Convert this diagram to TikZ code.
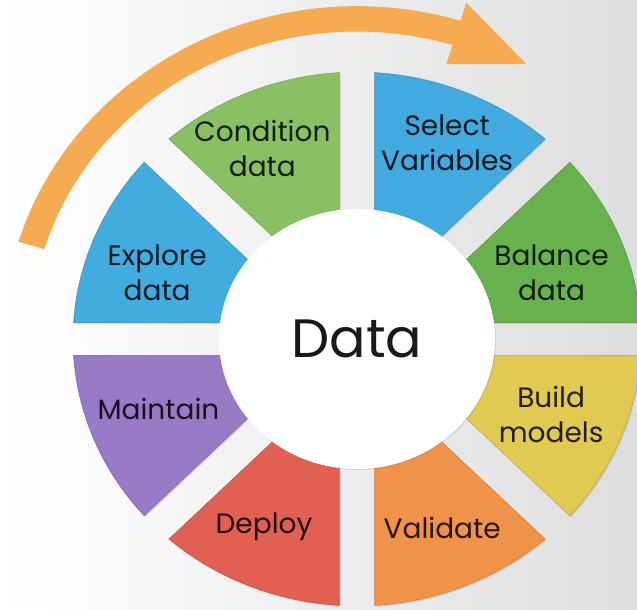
\documentclass[tikz,border=0pt]{standalone}
\usepackage{fontspec}
\setmainfont{Poppins}
\usepackage{tikz}
\usetikzlibrary{shapes.geometric}
\usetikzlibrary{shadows}

\definecolor{balgreen}{RGB}{103,178,76}
\definecolor{selblue}{RGB}{66,170,222}
\definecolor{condgreen}{RGB}{138,192,100}
\definecolor{explblue}{RGB}{66,172,222}
\definecolor{maintpurple}{RGB}{152,122,198}
\definecolor{deployred}{RGB}{226,96,82}
\definecolor{validorange}{RGB}{240,146,72}
\definecolor{buildyellow}{RGB}{224,202,82}
\definecolor{arroworange}{RGB}{246,170,82}

\tikzset{
  wedge/.style={fill=#1, draw=#1!80!black, line width=0.4pt,
    drop shadow={shadow xshift=1.2pt, shadow yshift=-1.2pt, opacity=0.25}},
  steptext/.style={text=#1!15!black, align=center,
    font=\fontsize{28}{35}\selectfont}
}

\begin{document}
\begin{tikzpicture}[x=1pt, y=1pt]

    \shade[left color=white, right color=black!13]
      (-357,-271) rectangle (280,339);
    \useasboundingbox (-357,-271) rectangle (280,339);

  \begin{scope}[yscale=0.94]
    % wheel segments
    \foreach \a/\c in {0/balgreen, 45/selblue, 90/condgreen, 135/explblue,
                       180/maintpurple, 225/deployred, 270/validorange, 315/buildyellow}
      \filldraw[wedge=\c] ({\a+22.5}:45.7) -- ({\a+3.53}:284)
        arc[start angle={\a+3.53}, end angle={\a+41.47}, radius=284] -- cycle;

    % cycle arrow
    \fill[arroworange]
      (163:327) arc[start angle=163, end angle=73, radius=327]
      -- (73:306) -- (60:338) -- (73:374) -- (73:354)
      arc[start angle=73, end angle=163, radius=354] -- cycle;

    \node[ellipse, fill=white, minimum width=276pt, minimum height=260pt,
      drop shadow={shadow xshift=1pt, shadow yshift=-1pt, opacity=0.2},
      font=\fontsize{54}{60}\selectfont, text=black!90]
      (Hub) at (0,0) {Data};

    \node[steptext=balgreen]    (Balance)   at (20:207)  {Balance\\data};
    \node[steptext=selblue]     (Select)    at (66.6:227) {Select\\Variables};
    \node[steptext=condgreen]   (Condition) at (115:224) {Condition\\data};
    \node[steptext=explblue]    (Explore)   at (160.5:212) {Explore\\data};
    \node[steptext=maintpurple] (Maintain)  at (200.5:212) {Maintain};
    \node[steptext=deployred]   (Deploy)    at (245:220) {Deploy};
    \node[steptext=validorange] (Validate)  at (293:218) {Validate};
    \node[steptext=buildyellow] (Build)     at (337.6:210) {Build\\models};
  \end{scope}

\end{tikzpicture}
\end{document}
